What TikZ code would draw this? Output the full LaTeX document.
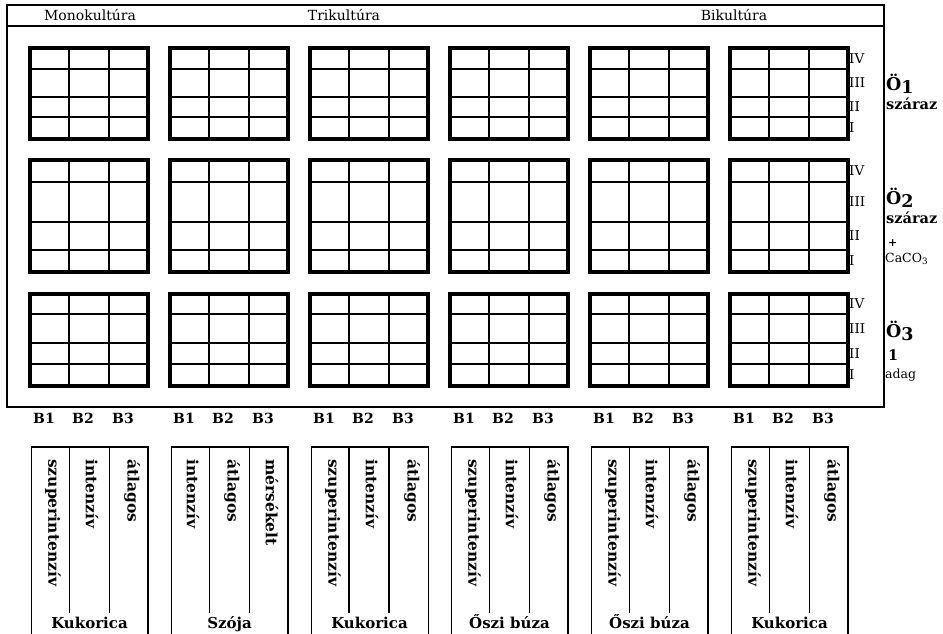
\documentclass[tikz,border=0pt]{standalone}
\usepackage{fontspec}
\setmainfont{DejaVu Serif}
\begin{document}
\begin{tikzpicture}[x=1pt, y=-1pt,
  frame/.style={line width=2pt},
  plotbox/.style={line width=4pt},
  plotline/.style={line width=2.2pt},
  headtext/.style={font=\fontsize{14}{16}\selectfont, anchor=base, inner sep=0pt},
  rowtext/.style={font=\fontsize{13.5}{15}\selectfont, anchor=west, inner sep=0pt},
  oetext/.style={font=\fontsize{17.5}{19}\selectfont\bfseries, anchor=west, inner sep=0pt},
  sidetext/.style={font=\fontsize{14.5}{16}\selectfont\bfseries, anchor=west, inner sep=0pt},
  smalltext/.style={font=\fontsize{12.5}{14}\selectfont, anchor=west, inner sep=0pt},
  btext/.style={font=\fontsize{14}{16}\selectfont\bfseries, inner sep=0pt},
  levtext/.style={font=\fontsize{15.5}{17}\selectfont\bfseries, rotate=-90, anchor=west, inner sep=0pt},
  croptext/.style={font=\fontsize{15}{17}\selectfont\bfseries, anchor=base, inner sep=0pt}]
  \useasboundingbox (0,0) rectangle (943,634);

  % --- outer frame with header ---
  \draw[frame] (7,5) rectangle (884,407);
  \draw[frame] (7,26) -- (884,26);
  \node[headtext] (mono) at (90,21)  {Monokultúra};
  \node[headtext] (tri)  at (344,21) {Trikultúra};
  \node[headtext] (bi)   at (734,21) {Bikultúra};

  % --- plots: 3 fertiliser levels x 6 rotations ---
  \foreach \ya/\yb/\yc/\yd/\ye/\g in {48/69/97/117/139/1, 160/182/222/250/272/2, 294/314/343/364/386/3} {
    \foreach \x in {30,170,310,450,590,730} {
      \draw[plotline] (\x,\yb) -- ++(118,0) (\x,\yc) -- ++(118,0) (\x,\yd) -- ++(118,0);
      \draw[plotline] (\x+39,\ya) -- (\x+39,\ye) (\x+79,\ya) -- (\x+79,\ye);
      \draw[plotbox] (\x,\ya) rectangle (\x+118,\ye);
    }
    \node[rowtext] (iv\g)  at (849,{(\ya+\yb)/2}) {IV};
    \node[rowtext] (iii\g) at (849,{(\yb+\yc)/2}) {III};
    \node[rowtext] (ii\g)  at (849,{(\yc+\yd)/2}) {II};
    \node[rowtext] (i\g)   at (849,{(\yd+\ye)/2}) {I};
  }

  % --- fertiliser labels ---
  \node[oetext]    (oe1)   at (886,84)  {Ö\raisebox{-3pt}{1}};
  \node[sidetext]  (dry1)  at (886,104) {száraz};
  \node[oetext]    (oe2)   at (886,198) {Ö\raisebox{-3pt}{2}};
  \node[sidetext]  (dry2)  at (886,218) {száraz};
  \node[sidetext, font=\fontsize{11}{12}\selectfont\bfseries] (plus) at (888,243) {+};
  \node[smalltext] (caco)  at (885,259) {CaCO\textsubscript{3}};
  \node[oetext]    (oe3)   at (886,331) {Ö\raisebox{-3pt}{3}};
  \node[sidetext]  (one)   at (888,355) {1};
  \node[smalltext] (adag)  at (885,375) {adag};

  % --- hybrid labels ---
  \foreach \x [count=\i] in {30,170,310,450,590,730} {
    \node[btext] (b\i a) at (\x+14,418) {B1};
    \node[btext] (b\i b) at (\x+53,418) {B2};
    \node[btext] (b\i c) at (\x+93,418) {B3};
  }

  % --- crops and intensity levels ---
  \foreach \x/\ca/\cb/\cc/\crop/\rw/\iw [count=\i] in {
      31/szuperintenzív/intenzív/átlagos/Kukorica/2.5/1,
      171/intenzív/átlagos/mérsékelt/Szója/2.5/1,
      311/szuperintenzív/intenzív/átlagos/Kukorica/1/2.5,
      451/szuperintenzív/intenzív/átlagos/Őszi búza/2.5/1,
      591/szuperintenzív/intenzív/átlagos/Őszi búza/2.5/1,
      731/szuperintenzív/intenzív/átlagos/Kukorica/1.5/1} {
    \draw[line width=1pt] (\x,634) -- (\x,447);
    \draw[line width=2.5pt] (\x-0.5,447) -- (\x+117,447);
    \draw[line width=\rw pt] (\x+117,446) -- (\x+117,634);
    \draw[line width=\iw pt] (\x+38,447) -- (\x+38,613) (\x+78,447) -- (\x+78,613);
    \node[levtext] (lev\i a) at (\x+22,459)  {\ca};
    \node[levtext] (lev\i b) at (\x+61,459)  {\cb};
    \node[levtext] (lev\i c) at (\x+101,459) {\cc};
    \node[croptext] (crop\i) at (\x+58.5,628) {\crop};
  }
\end{tikzpicture}
\end{document}
